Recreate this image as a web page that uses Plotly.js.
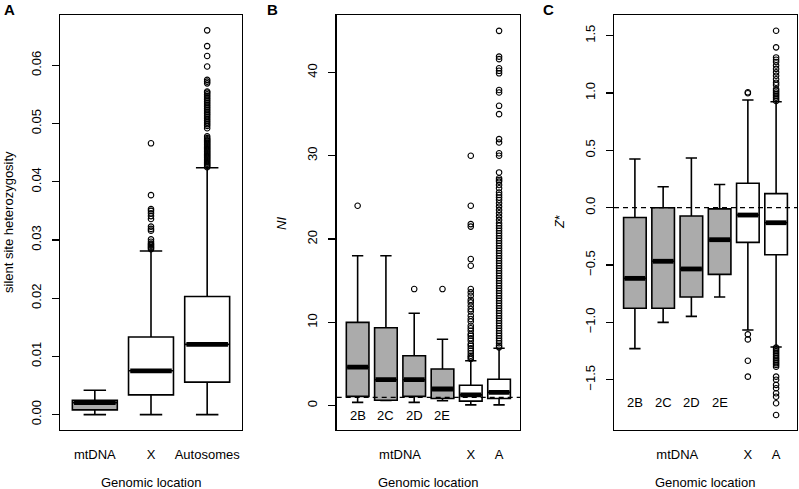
<!DOCTYPE html>
<html><head><meta charset="utf-8">
<script src="https://cdn.plot.ly/plotly-3.0.1.min.js"></script>
<style>html,body{margin:0;padding:0;background:#fff}#chart{width:799px;height:489px}</style>
</head><body><div id="chart"></div><script>
// ---------- Panel A: silent site heterozygosity ----------
const aLabels = ['mtDNA', 'X', 'Autosomes'];
const aLow  = [0, 0, 0];
const aQ1   = [0.00081, 0.0034, 0.00558];
const aMed  = [0.00207, 0.00753, 0.01207];
const aQ3   = [0.00248, 0.01334, 0.0203];
const aHigh = [0.0042, 0.0281, 0.0424];
const aOutX = [0.0466, 0.0377, 0.0353, 0.0350, 0.0346, 0.0341, 0.0336, 0.0323, 0.0319, 0.0316, 0.0301, 0.0297, 0.0294, 0.0292, 0.0290, 0.0288, 0.0286, 0.0284];
const aOutAuto = [0.0660, 0.0633, 0.0616, 0.0598, 0.0575, 0.0572, 0.0569, 0.0555, 0.0553, 0.0550, 0.0547, 0.0544, 0.0541, 0.0538, 0.0535, 0.0532, 0.0529, 0.0526, 0.0523, 0.0520, 0.0517, 0.0514, 0.0511, 0.0508, 0.0505, 0.0502, 0.0499, 0.0496, 0.0492, 0.0478, 0.0475, 0.0473, 0.0471, 0.0469, 0.0467, 0.0465, 0.0463, 0.0461, 0.0459, 0.0457, 0.0455, 0.0453, 0.0451, 0.0449, 0.0447, 0.0445, 0.0443, 0.0441, 0.0439, 0.0437, 0.0435, 0.0433, 0.0431, 0.0429, 0.0427, 0.0425];
const aTicks = [0, 0.01, 0.02, 0.03, 0.04, 0.05, 0.06];

// ---------- Panel B: NI ----------
const bLabels = ['2B', '2C', '2D', '2E', 'X', 'A'];
const bLow  = [0.4, 0.62, 0.4, 0.6, 0.1, 0.1];
const bQ1   = [1.12, 0.66, 1.12, 0.86, 0.55, 0.86];
const bMed  = [4.62, 3.12, 3.12, 2.0, 1.3, 1.6];
const bQ3   = [10.0, 9.36, 6.0, 4.4, 2.46, 3.18];
const bHigh = [18.0, 18.0, 11.09, 7.97, 5.4, 6.89];
const bOut2B = [24.0];
const bOut2D = [14.0];
const bOut2E = [14.0];
const bOutX = [30.0, 24.0, 21.8, 21.5, 17.6, 16.8, 14.0, 13.6, 13.2, 12.7, 12.4, 12.0, 11.6, 11.3, 10.8, 10.4, 10.1, 9.6, 9.3, 9.0, 8.6, 8.4, 8.1, 7.8, 7.4, 7.2, 6.9, 6.6, 6.3, 6.0, 5.8, 5.6];
const bOutA = [45.0, 41.9, 41.6, 40.5, 40.2, 39.9, 37.9, 37.6, 36.0, 35.0, 32.0, 31.6, 30.3, 30.0, 28.0, 27.3, 27.1, 26.9, 26.5, 26.1, 25.6, 25.3, 25.0, 24.7, 24.3, 23.9, 23.5, 23.1, 22.7, 22.3, 21.9, 21.6, 21.3, 21.0, 20.7, 20.4, 20.1, 19.8, 19.5, 19.2, 18.9, 18.6, 18.3, 18.0, 17.7, 17.4, 17.1, 16.8, 16.5, 16.2, 15.9, 15.6, 15.3, 15.0, 14.7, 14.4, 14.1, 13.8, 13.5, 13.2, 12.9, 12.6, 12.3, 12.0, 11.7, 11.4, 11.1, 10.8, 10.5, 10.2, 9.9, 9.6, 9.3, 9.0, 8.7, 8.4, 8.1, 7.8, 7.5, 7.2, 7.0];
const bTicks = [0, 10, 20, 30, 40];
const bRef = 1;

// ---------- Panel C: Z* ----------
const cLabels = ['2B', '2C', '2D', '2E', 'X', 'A'];
const cLow  = [-1.229, -1.0, -0.947, -0.779, -1.066, -1.214];
const cQ1   = [-0.877, -0.877, -0.779, -0.581, -0.302, -0.41];
const cMed  = [-0.616, -0.467, -0.534, -0.279, -0.064, -0.131];
const cQ3   = [-0.085, 0.0, -0.072, -0.01, 0.213, 0.123];
const cHigh = [0.425, 0.183, 0.433, 0.202, 0.939, 0.924];
const cOutX = [1.006, 0.998, -1.104, -1.148, -1.334, -1.473];
const cOutA = [1.543, 1.398, 1.31, 1.29, 1.27, 1.24, 1.21, 1.18, 1.15, 1.12, 1.09, 1.07, 1.035, 1.02, 1.005, 0.99, 0.975, 0.96, 0.945, 0.93, -1.22, -1.235, -1.25, -1.265, -1.28, -1.295, -1.31, -1.325, -1.34, -1.355, -1.37, -1.386, -1.473, -1.50, -1.545, -1.574, -1.618, -1.648, -1.705, -1.807];
const cTicks = [-1.5, -1.0, -0.5, 0.0, 0.5, 1.0, 1.5];
const cRef = 0;

const FONT = 'Liberation Sans, Arial, Helvetica, sans-serif';
const GRAY = '#ababab';
const BOXW = 0.8;
const traces = [];

function addPanel(xa, ya, low, q1, med, q3, high, nGray, outliers) {
  const pos = low.map((_, i) => i + 1);
  const groups = [[0, nGray, GRAY], [nGray, pos.length, '#ffffff']];
  groups.forEach(([s, e, fill]) => {
    if (e <= s) return;
    traces.push({
      type: 'box', xaxis: xa, yaxis: ya,
      x: pos.slice(s, e), q1: q1.slice(s, e), median: med.slice(s, e), q3: q3.slice(s, e),
      lowerfence: low.slice(s, e), upperfence: high.slice(s, e),
      width: BOXW, whiskerwidth: 0.5, fillcolor: fill,
      line: { color: '#000', width: 1.6 }, boxpoints: false, hoverinfo: 'skip', showlegend: false
    });
  });
  const mx = [], my = [];
  pos.forEach((p, i) => { mx.push(p - BOXW / 2 + 0.03, p + BOXW / 2 - 0.03, null); my.push(med[i], med[i], null); });
  traces.push({ type: 'scatter', mode: 'lines', xaxis: xa, yaxis: ya, x: mx, y: my,
    line: { color: '#000', width: 4.8 }, hoverinfo: 'skip', showlegend: false });
  outliers.forEach(([idx, vals]) => {
    traces.push({ type: 'scatter', mode: 'markers', xaxis: xa, yaxis: ya,
      x: vals.map(() => idx + 1), y: vals,
      marker: { symbol: 'circle-open', size: 5.5, color: '#000', line: { width: 1.1, color: '#000' } },
      hoverinfo: 'skip', showlegend: false });
  });
}

addPanel('x', 'y', aLow, aQ1, aMed, aQ3, aHigh, 1, [[1, aOutX], [2, aOutAuto]]);
addPanel('x2', 'y2', bLow, bQ1, bMed, bQ3, bHigh, 4, [[0, bOut2B], [2, bOut2D], [3, bOut2E], [4, bOutX], [5, bOutA]]);
addPanel('x3', 'y3', cLow, cQ1, cMed, cQ3, cHigh, 4, [[4, cOutX], [5, cOutA]]);

const W = 799, H = 489;
const yDom = [(H - 430) / H, (H - 15) / H];
function yAxis(range, ticks, fmt, anchor) {
  return { domain: yDom, anchor: anchor, range: range, tickvals: ticks,
    tickformat: fmt, showline: true, mirror: true, linecolor: '#000', linewidth: 1.3,
    ticks: 'outside', ticklen: 7, tickwidth: 1.3, tickcolor: '#000', tickangle: -90,
    ticklabelstandoff: 6,
    showgrid: false, zeroline: false, tickfont: { family: FONT, size: 13, color: '#000' } };
}
function xAxis(dom, range, vals, text, anchor) {
  return { domain: [dom[0] / W, dom[1] / W], anchor: anchor, range: range,
    tickvals: vals, ticktext: text, showline: true, mirror: true, linecolor: '#000', linewidth: 1.3,
    ticks: 'outside', ticklen: 12, tickcolor: 'rgba(0,0,0,0)', showgrid: false, zeroline: false,
    tickfont: { family: FONT, size: 13, color: '#000' } };
}

const annotations = [];
function ann(text, px, py, opts) {
  annotations.push(Object.assign({ text: text, xref: 'paper', yref: 'paper', x: px / W, y: 1 - py / H,
    xanchor: 'center', yanchor: 'middle', showarrow: false, font: { family: FONT, size: 13, color: '#000' } }, opts || {}));
}
ann('<b>A</b>', 9, 10, { font: { family: FONT, size: 15, color: '#000' } });
ann('<b>B</b>', 272, 9, { font: { family: FONT, size: 15, color: '#000' } });
ann('<b>C</b>', 548, 10, { font: { family: FONT, size: 15, color: '#000' } });
ann('silent site heterozygosity', 8, 222, { textangle: -90 });
ann('<i>NI</i>', 282, 224, { textangle: -90 });
ann('<i>Z</i>*', 559, 222, { textangle: -90 });
ann('Genomic location', 151, 482);
ann('Genomic location', 428, 482);
ann('Genomic location', 705, 482);
// inside mtDNA population labels
bLabels.slice(0, 4).forEach((t, i) => annotations.push({ text: t, xref: 'x2', yref: 'y2', x: i + 1, y: -1.2,
  showarrow: false, xanchor: 'center', yanchor: 'middle', font: { family: FONT, size: 13, color: '#000' } }));
cLabels.slice(0, 4).forEach((t, i) => annotations.push({ text: t, xref: 'x3', yref: 'y3', x: i + 1, y: -1.7,
  showarrow: false, xanchor: 'center', yanchor: 'middle', font: { family: FONT, size: 13, color: '#000' } }));

const layout = {
  width: W, height: H, margin: { l: 0, r: 0, t: 0, b: 0 }, paper_bgcolor: '#fff', plot_bgcolor: '#fff',
  showlegend: false, boxmode: 'overlay', font: { family: FONT, color: '#000' },
  xaxis:  xAxis([60, 242], [0.38, 3.62], [1, 2, 3], aLabels, 'y'),
  xaxis2: xAxis([336.7, 520], [0.26, 6.74], [2.5, 5, 6], ['mtDNA', bLabels[4], bLabels[5]], 'y2'),
  xaxis3: xAxis([614, 797], [0.26, 6.74], [2.5, 5, 6], ['mtDNA', cLabels[4], cLabels[5]], 'y3'),
  yaxis:  yAxis([-0.00264, 0.06864], aTicks, '.2f', 'x'),
  yaxis2: yAxis([-2.92, 46.9], bTicks, 'd', 'x2'),
  yaxis3: yAxis([-1.938, 1.680], cTicks, '.1f', 'x3'),
  shapes: [
    { type: 'line', xref: 'x2 domain', x0: 0, x1: 1, yref: 'y2', y0: bRef, y1: bRef, layer: 'above',
      line: { color: '#000', width: 1.3, dash: '5px,4px' } },
    { type: 'line', xref: 'x3 domain', x0: 0, x1: 1, yref: 'y3', y0: cRef, y1: cRef, layer: 'above',
      line: { color: '#000', width: 1.3, dash: '5px,4px' } }
  ],
  annotations: annotations
};
Plotly.newPlot('chart', traces, layout, { staticPlot: true, displayModeBar: false });
</script></body></html>
